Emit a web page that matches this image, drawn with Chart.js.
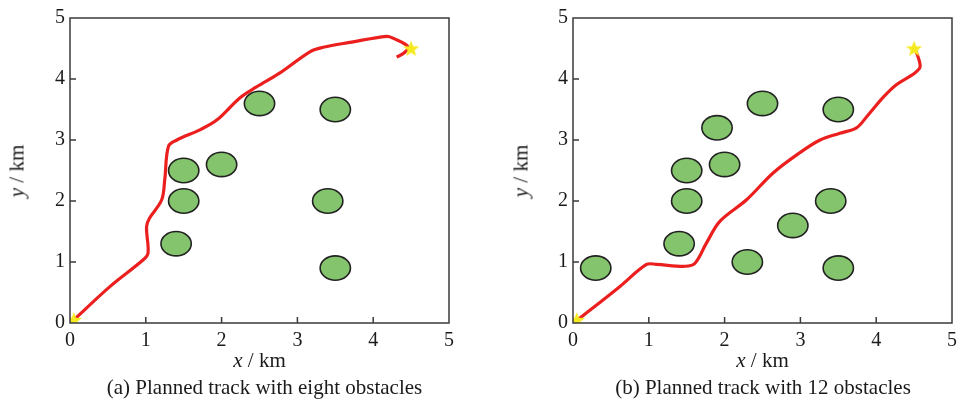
<!DOCTYPE html>
<html>
<head>
<meta charset="utf-8">
<script src="https://cdn.jsdelivr.net/npm/chart.js@4/dist/chart.umd.min.js"></script>
<style>
body{margin:0;background:#fff;width:958px;height:399px;position:relative;overflow:hidden;font-family:"Liberation Serif",serif;color:#1a1a1a}
.box{position:absolute;top:0;width:479px;height:399px}
.t{position:absolute;font-size:21px;line-height:21px;white-space:nowrap;transform:translateX(-50%)}
.yt{position:absolute;font-size:21px;line-height:21px;white-space:nowrap;transform:translate(-50%,-50%) rotate(-90deg)}
</style>
</head>
<body>
<div class="box" style="left:0"><canvas id="ca"></canvas></div>
<div class="box" style="left:479px"><canvas id="cb"></canvas></div>

<div class="yt" style="left:17.4px;top:170.5px"><i>y</i> / km</div>
<div class="t" style="left:259.5px;top:350.4px"><i>x</i> / km</div>
<div class="t" style="left:264.5px;top:376.6px">(a) Planned track with eight obstacles</div>

<div class="yt" style="left:520.5px;top:170.5px"><i>y</i> / km</div>
<div class="t" style="left:762.5px;top:350.4px"><i>x</i> / km</div>
<div class="t" style="left:763px;top:376.6px">(b) Planned track with 12 obstacles</div>

<script>
// axis ticks (km)
var tickVals = [0, 1, 2, 3, 4, 5];
var startPt = [0.05, 0.05];
var goalPt = [4.5, 4.5];
var obstacleR = 0.2;

// (a) eight obstacles
var obsAX = [1.5, 1.5, 1.4, 2.0, 2.5, 3.5, 3.4, 3.5];
var obsAY = [2.5, 2.0, 1.3, 2.6, 3.6, 3.5, 2.0, 0.9];
var trackAX = [0.05, 0.53, 0.97, 1.03, 1.01, 1.05, 1.21, 1.25, 1.30, 1.41, 1.72, 1.94, 2.24, 2.46, 2.77, 3.17, 3.34, 3.69, 4.18, 4.26, 4.46, 4.41, 4.31];
var trackAY = [0.05, 0.60, 1.04, 1.15, 1.58, 1.72, 2.02, 2.35, 2.90, 3.00, 3.17, 3.33, 3.69, 3.87, 4.10, 4.45, 4.52, 4.60, 4.70, 4.67, 4.53, 4.43, 4.36];

// (b) 12 obstacles
var obsBX = [0.3, 1.4, 1.5, 1.5, 1.9, 2.0, 2.5, 2.3, 2.9, 3.4, 3.5, 3.5];
var obsBY = [0.9, 1.3, 2.0, 2.5, 3.2, 2.6, 3.6, 1.0, 1.6, 2.0, 3.5, 0.9];
var trackBX = [0.04, 0.62, 0.97, 1.10, 1.48, 1.61, 1.76, 1.94, 2.29, 2.64, 2.99, 3.26, 3.52, 3.74, 3.88, 4.10, 4.27, 4.51, 4.58, 4.51];
var trackBY = [0.03, 0.60, 0.96, 0.96, 0.93, 0.98, 1.31, 1.67, 2.02, 2.46, 2.79, 3.00, 3.11, 3.20, 3.39, 3.71, 3.91, 4.10, 4.21, 4.51];

function pts(xs, ys) {
  var out = [];
  for (var i = 0; i < xs.length; i++) out.push({x: xs[i], y: ys[i]});
  return out;
}

// yellow filled star marker
var star = document.createElement('canvas');
star.width = 18; star.height = 18;
(function () {
  var c = star.getContext('2d');
  c.fillStyle = '#f6ea1f';
  c.beginPath();
  for (var i = 0; i < 10; i++) {
    var r = i % 2 ? 3.6 : 8.5;
    var a = -Math.PI / 2 + i * Math.PI / 5;
    c.lineTo(9 + r * Math.cos(a), 9.6 + r * Math.sin(a));
  }
  c.closePath();
  c.fill();
})();

// obstacles (circles of radius obstacleR km) + frame with inward ticks
var decor = {
  id: 'decor',
  beforeDatasetsDraw: function (chart) {
    var xs = chart.options.plugins.decor.ox, ys = chart.options.plugins.decor.oy;
    var sx = chart.scales.x, sy = chart.scales.y, ctx = chart.ctx;
    ctx.save();
    for (var i = 0; i < xs.length; i++) {
      var cx = sx.getPixelForValue(xs[i]), cy = sy.getPixelForValue(ys[i]);
      var rx = sx.getPixelForValue(xs[i] + obstacleR) - cx;
      var ry = cy - sy.getPixelForValue(ys[i] + obstacleR);
      ctx.beginPath();
      ctx.ellipse(cx, cy, rx, ry, 0, 0, Math.PI * 2);
      ctx.fillStyle = '#84c46c';
      ctx.fill();
      ctx.lineWidth = 1.6;
      ctx.strokeStyle = '#222';
      ctx.stroke();
    }
    ctx.restore();
  },
  afterDraw: function (chart) {
    var a = chart.chartArea, ctx = chart.ctx;
    var sx = chart.scales.x, sy = chart.scales.y;
    ctx.save();
    ctx.strokeStyle = '#3a3a3a';
    ctx.lineWidth = 1.5;
    ctx.strokeRect(a.left, a.top, a.right - a.left, a.bottom - a.top);
    ctx.beginPath();
    for (var i = 1; i < tickVals.length - 1; i++) {
      var px = sx.getPixelForValue(tickVals[i]);
      ctx.moveTo(px, a.bottom); ctx.lineTo(px, a.bottom - 6);
      var py = sy.getPixelForValue(tickVals[i]);
      ctx.moveTo(a.left, py); ctx.lineTo(a.left + 6, py);
    }
    ctx.stroke();
    ctx.restore();
  }
};

function makeChart(id, tx, ty, ox, oy, yWidth, padRight) {
  return new Chart(document.getElementById(id), {
    type: 'scatter',
    data: {
      datasets: [{
        data: [{x: startPt[0], y: startPt[1]}, {x: goalPt[0], y: goalPt[1]}],
        pointStyle: star,
        pointRadius: 9,
        order: 0
      }, {
        data: pts(tx, ty),
        showLine: true,
        borderColor: '#ec1f1f',
        borderWidth: 3.2,
        pointRadius: 0,
        tension: 0.35,
        order: 1
      }]
    },
    options: {
      responsive: false,
      animation: false,
      events: [],
      layout: {autoPadding: false, padding: {top: 18, right: padRight, left: 0, bottom: 0}},
      plugins: {legend: {display: false}, tooltip: {enabled: false}, decor: {ox: ox, oy: oy}},
      scales: {
        x: {
          type: 'linear', min: 0, max: 5,
          border: {display: false},
          grid: {display: false, drawTicks: false},
          afterBuildTicks: function (s) { s.ticks = tickVals.map(function (v) { return {value: v}; }); },
          afterFit: function (s) { s.height = 76; s.paddingRight = 0; s.paddingLeft = 0; },
          ticks: {padding: 6, color: '#1a1a1a', font: {family: 'Liberation Serif', size: 20}, maxRotation: 0}
        },
        y: {
          type: 'linear', min: 0, max: 5,
          border: {display: false},
          grid: {display: false, drawTicks: false},
          afterBuildTicks: function (s) { s.ticks = tickVals.map(function (v) { return {value: v}; }); },
          afterFit: function (s) { s.width = yWidth; s.paddingTop = 0; s.paddingBottom = 0; },
          ticks: {padding: 5, color: '#1a1a1a', font: {family: 'Liberation Serif', size: 20}}
        }
      }
    },
    plugins: [decor]
  });
}

document.getElementById('ca').width = 479; document.getElementById('ca').height = 399;
document.getElementById('cb').width = 479; document.getElementById('cb').height = 399;
makeChart('ca', trackAX, trackAY, obsAX, obsAY, 70, 30);
makeChart('cb', trackBX, trackBY, obsBX, obsBY, 94, 6);
</script>
</body>
</html>
